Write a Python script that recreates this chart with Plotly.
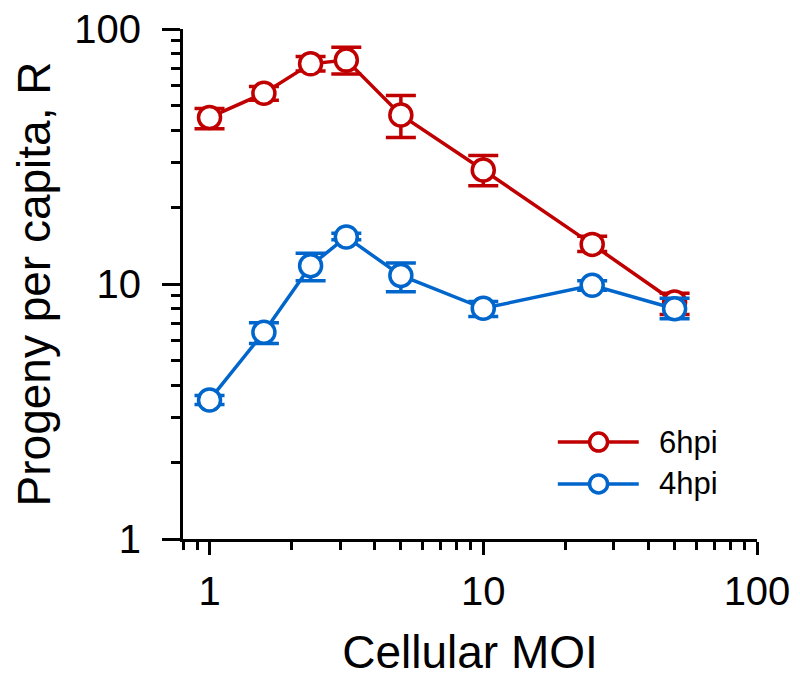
import plotly.graph_objects as go

# Cellular MOI (x) and progeny per capita (y), with error bar limits
moi = [1, 1.58, 2.34, 3.16, 5, 10, 25, 50]

r6_mean = [45.0, 56.0, 73.0, 75.5, 46.0, 28.0, 14.3, 8.5]
r6_hi = [48.8, 59.5, 78.0, 84.8, 54.8, 31.9, 15.4, 9.2]
r6_lo = [40.6, 52.5, 68.5, 66.6, 37.5, 24.3, 13.4, 7.6]

r4_mean = [3.51, 6.47, 11.8, 15.3, 10.8, 8.03, 9.88, 8.0]
r4_hi = [3.65, 7.05, 13.2, 15.8, 12.1, 8.53, 10.3, 8.8]
r4_lo = [3.37, 5.85, 10.3, 14.9, 9.33, 7.45, 9.45, 7.3]

series = [
    ("6hpi", r6_mean, r6_hi, r6_lo, "#C00000"),
    ("4hpi", r4_mean, r4_hi, r4_lo, "#0066CC"),
]

x_major = [1, 10, 100]
x_minor = [0.8, 0.9, 2, 3, 4, 5, 6, 7, 8, 9, 20, 30, 40, 50, 60, 70, 80, 90]
y_major = [1, 10, 100]
y_minor = [2, 3, 4, 5, 6, 7, 8, 9, 20, 30, 40, 50, 60, 70, 80, 90]

FONT = "Liberation Sans, Arial, sans-serif"

fig = go.Figure()
for name, mean, hi, lo, col in series:
    fig.add_trace(go.Scatter(
        x=moi, y=mean, name=name, mode="lines+markers",
        line=dict(color=col, width=3.5),
        marker=dict(symbol="circle", size=22, color="white",
                    line=dict(color=col, width=3.5)),
        error_y=dict(type="data", symmetric=False,
                     array=[h - m for h, m in zip(hi, mean)],
                     arrayminus=[m - l for m, l in zip(mean, lo)],
                     color=col, thickness=3.5, width=15),
        showlegend=False,
    ))

# hand-drawn legend (longer sample lines than plotly's default)
shapes = []
annotations = []
for (name, _, _, _, col), ly in zip(series, [0.19, 0.108]):
    shapes.append(dict(type="line", xref="paper", yref="paper",
                       x0=0.653, x1=0.794, y0=ly, y1=ly,
                       line=dict(color=col, width=3.5)))
    shapes.append(dict(type="circle", xref="paper", yref="paper",
                       xsizemode="pixel", ysizemode="pixel",
                       xanchor=0.724, yanchor=ly, x0=-9, x1=9, y0=-9, y1=9,
                       fillcolor="white", line=dict(color=col, width=3.5)))
    annotations.append(dict(text=name, xref="paper", yref="paper",
                            x=0.826, y=ly, xanchor="left", yanchor="middle",
                            showarrow=False,
                            font=dict(family=FONT, size=31, color="black")))

fig.update_layout(
    width=800, height=685,
    margin=dict(l=175, r=51, t=21, b=154),
    paper_bgcolor="white", plot_bgcolor="white",
    font=dict(family=FONT, color="black"),
    shapes=shapes, annotations=annotations,
    xaxis=dict(
        type="log", range=[-0.0969, 2], automargin=False,
        tickmode="array", tickvals=x_major, ticktext=["1", "10", "100"],
        ticks="outside", ticklen=13, tickwidth=3, tickcolor="black",
        minor=dict(tickmode="array", tickvals=x_minor, ticks="outside",
                   ticklen=8, tickwidth=3, tickcolor="black"),
        showline=True, linewidth=3, linecolor="black",
        showgrid=False, zeroline=False, ticklabeloverflow="allow",
        tickfont=dict(size=40), ticklabelstandoff=2,
        title=dict(text="Cellular MOI", font=dict(size=46), standoff=24),
    ),
    yaxis=dict(
        type="log", range=[0, 2], automargin=False,
        tickmode="array", tickvals=y_major, ticktext=["1", "10", "100"],
        ticks="outside", ticklen=18, tickwidth=3, tickcolor="black",
        minor=dict(tickmode="array", tickvals=y_minor, ticks="outside",
                   ticklen=9, tickwidth=3, tickcolor="black"),
        showline=True, linewidth=3, linecolor="black",
        showgrid=False, zeroline=False, ticklabeloverflow="allow",
        tickfont=dict(size=40), ticklabelstandoff=13,
        title=dict(text="Progeny per capita, R", font=dict(size=46), standoff=23),
    ),
)

fig.write_html("out.html")
